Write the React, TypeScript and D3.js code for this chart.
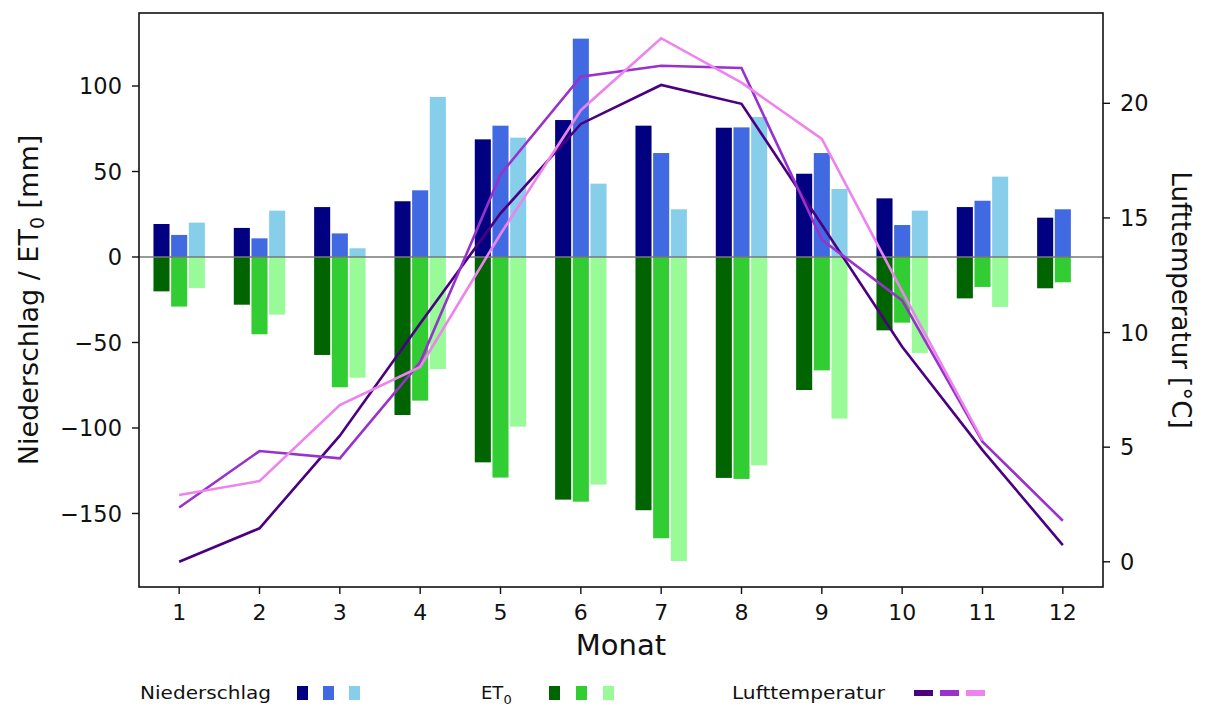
import React from "react";
import * as d3 from "d3";

// Monthly climate data for three stations/periods
const months = [1, 2, 3, 4, 5, 6, 7, 8, 9, 10, 11, 12];

// Niederschlag [mm]
const precipA = [19.3, 17.0, 29.2, 32.6, 68.8, 80.1, 76.8, 75.6, 48.7, 34.3, 29.2, 23.0];
const precipB = [12.9, 10.9, 13.8, 39.0, 76.8, 127.7, 60.8, 75.8, 60.8, 18.7, 32.9, 27.9];
const precipC = [20.1, 27.1, 5.1, 93.6, 69.8, 42.9, 27.9, 81.9, 39.8, 27.1, 47.0];

// ET0 [mm], plotted downward
const et0A = [-20.1, -27.9, -57.3, -92.4, -120.1, -141.9, -148.1, -129.2, -77.8, -42.9, -24.2, -18.3];
const et0B = [-29.0, -45.2, -76.2, -84.0, -129.0, -143.1, -164.5, -129.8, -66.3, -38.4, -17.5, -14.8];
const et0C = [-18.1, -33.7, -70.6, -65.5, -99.2, -133.1, -177.8, -121.8, -94.5, -56.1, -29.2];

// Lufttemperatur [°C]
const tempA = [0.0, 1.46, 5.5, 10.4, 15.2, 19.1, 20.8, 19.98, 14.7, 9.38, 4.87, 0.73];
const tempB = [2.37, 4.83, 4.51, 8.7, 16.9, 21.16, 21.64, 21.54, 14.05, 11.4, 5.24, 1.79];
const tempC = [2.91, 3.52, 6.84, 8.5, 14.3, 19.7, 22.84, 20.9, 18.45, 11.8, 5.3];

const leftTicks = [-150, -100, -50, 0, 50, 100];
const rightTicks = [0, 5, 10, 15, 20];

const precipColors = ["#000080", "#4169e1", "#87ceeb"];
const et0Colors = ["#006400", "#32cd32", "#98fb98"];
const tempColors = ["#4b0082", "#9932cc", "#ee82ee"];

const FONT = "DejaVu Sans";

export default function App() {
  const W = 1205;
  const H = 706;
  const left = 139;
  const right = 1103;
  const top = 13;
  const bottom = 587;

  const x = d3.scaleLinear().domain([0.5, 12.5]).range([left, right]);
  const y = d3.scaleLinear().domain([-193, 142.7]).range([bottom, top]);
  const yT = d3.scaleLinear().domain([-1.1, 23.94]).range([bottom, top]);

  const step = x(1.22) - x(1);
  const barW = step - 1.6;
  const offsets = [-0.22, 0, 0.22];

  const precip = [precipA, precipB, precipC];
  const et0 = [et0A, et0B, et0C];
  const temps = [tempA, tempB, tempC];

  const line = d3
    .line<number>()
    .x((_, i) => x(months[i]))
    .y((d) => yT(d));

  const bars: React.ReactNode[] = [];
  [precip, et0].forEach((group, gi) => {
    group.forEach((series, si) => {
      const color = gi === 0 ? precipColors[si] : et0Colors[si];
      series.forEach((v, i) => {
        const cx = x(months[i] + offsets[si]);
        const y0 = y(0);
        const y1 = y(v);
        bars.push(
          <rect
            key={`b${gi}-${si}-${i}`}
            x={cx - barW / 2}
            y={Math.min(y0, y1)}
            width={barW}
            height={Math.abs(y1 - y0)}
            fill={color}
          />
        );
      });
    });
  });

  const legendY = 693;

  return (
    <svg width={W} height={H} style={{ display: "block", position: "absolute", left: 0, top: 0 }}>
      <rect x={0} y={0} width={W} height={H} fill="#fff" />
      {bars}
      <line x1={left} x2={right} y1={y(0)} y2={y(0)} stroke="#777" strokeWidth={1.6} />
      {temps.map((t, i) => (
        <path key={`t${i}`} d={line(t) || ""} fill="none" stroke={tempColors[i]} strokeWidth={2.6} strokeLinejoin="miter" />
      ))}
      <rect x={left} y={top} width={right - left} height={bottom - top} fill="none" stroke="#111" strokeWidth={1.6} />

      {/* left axis */}
      {leftTicks.map((t) => (
        <g key={`l${t}`}>
          <line x1={left - 7} x2={left} y1={y(t)} y2={y(t)} stroke="#111" strokeWidth={1.4} />
          <text x={left - 17} y={y(t)} dy="0.36em" textAnchor="end" fontFamily={FONT} fontSize={22.5} fill="#111">
            {t < 0 ? `\u2212${Math.abs(t)}` : t}
          </text>
        </g>
      ))}
      {/* right axis */}
      {rightTicks.map((t) => (
        <g key={`r${t}`}>
          <line x1={right} x2={right + 7} y1={yT(t)} y2={yT(t)} stroke="#111" strokeWidth={1.4} />
          <text x={right + 17} y={yT(t)} dy="0.36em" textAnchor="start" fontFamily={FONT} fontSize={22.5} fill="#111">
            {t}
          </text>
        </g>
      ))}
      {/* bottom axis */}
      {months.map((m) => (
        <g key={`m${m}`}>
          <line x1={x(m)} x2={x(m)} y1={bottom} y2={bottom + 7} stroke="#111" strokeWidth={1.4} />
          <text x={x(m)} y={620} textAnchor="middle" fontFamily={FONT} fontSize={22} fill="#111">
            {m}
          </text>
        </g>
      ))}

      <text x={(left + right) / 2} y={655} textAnchor="middle" fontFamily={FONT} fontSize={29} fill="#111">
        Monat
      </text>
      <text
        transform={`translate(38, ${(top + bottom) / 2}) rotate(-90)`}
        textAnchor="middle"
        fontFamily={FONT}
        fontSize={27}
        fill="#111"
      >
        Niederschlag / ET
        <tspan fontSize={19} dy={6}>0</tspan>
        <tspan dy={-6}> [mm]</tspan>
      </text>
      <text
        transform={`translate(1172, ${(top + bottom) / 2}) rotate(90)`}
        textAnchor="middle"
        fontFamily={FONT}
        fontSize={26}
        fill="#111"
      >
        Lufttemperatur [°C]
      </text>

      {/* legend */}
      <text x={140} y={legendY + 6} fontFamily={FONT} fontSize={18} fill="#111" textLength={131} lengthAdjust="spacingAndGlyphs">
        Niederschlag
      </text>
      {precipColors.map((c, i) => (
        <rect key={`lp${i}`} x={297 + i * 26} y={legendY - 7} width={11} height={14} fill={c} />
      ))}
      <text x={481} y={legendY + 6} fontFamily={FONT} fontSize={18} fill="#111">
        ET<tspan fontSize={13} dy={5}>0</tspan>
      </text>
      {et0Colors.map((c, i) => (
        <rect key={`le${i}`} x={549 + i * 27} y={legendY - 7} width={11} height={14} fill={c} />
      ))}
      <text x={732} y={legendY + 6} fontFamily={FONT} fontSize={18} fill="#111" textLength={153} lengthAdjust="spacingAndGlyphs">
        Lufttemperatur
      </text>
      {tempColors.map((c, i) => (
        <rect key={`lt${i}`} x={914 + i * 26} y={legendY - 3} width={19} height={6} fill={c} />
      ))}
    </svg>
  );
}
